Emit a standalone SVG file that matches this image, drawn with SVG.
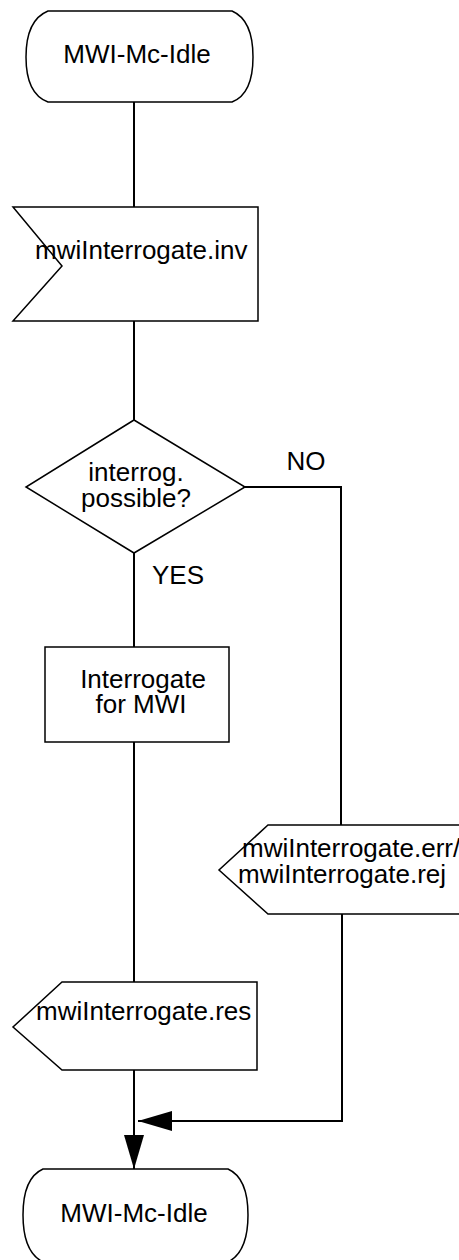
<svg xmlns="http://www.w3.org/2000/svg" width="459" height="1260" viewBox="0 0 459 1260">
<defs>
<style>
.s{fill:#fff;stroke:#000;stroke-width:1.5}
.c{fill:none;stroke:#000;stroke-width:2}
.t{font-family:"Liberation Sans",Arial,sans-serif;font-size:26px;fill:#000}
.m{text-anchor:middle}
</style>
<marker id="ah" markerWidth="34" markerHeight="20" refX="34" refY="10" orient="auto" markerUnits="userSpaceOnUse">
<path d="M0,0 L34,10 L0,20 Z" fill="#000"/>
</marker>
</defs>
<rect width="459" height="1260" fill="#fff"/>
<g id="connectors">
<path class="c" d="M134,102 V207"/>
<path class="c" d="M134,321 V420"/>
<path class="c" d="M134,553 V647"/>
<path class="c" d="M134,742 V982"/>
<path class="c" d="M245,487 H341 V825"/>
<path class="c" d="M342,914 V1121 H138" marker-end="url(#ah)"/>
<path class="c" d="M134,1070 V1169" marker-end="url(#ah)"/>
</g>
<g id="state_top">
<path class="s" d="M48,11 H232 Q253,20 253,57 Q253,94 232,102 H48 Q26,94 26,57 Q26,20 48,11 Z"/>
<text class="t m" x="137" y="63">MWI-Mc-Idle</text>
</g>
<g id="input_inv">
<path class="s" d="M13,207 H258 V321 H13 L62,266 Z"/>
<text class="t" x="35" y="259">mwiInterrogate.inv</text>
</g>
<g id="decision">
<path class="s" d="M134,420 L245,487 L134,553 L26,487 Z"/>
<text class="t m" x="136" y="481">interrog.</text>
<text class="t m" x="136" y="507">possible?</text>
</g>
<g id="label_no"><text class="t m" x="306" y="470">NO</text></g>
<g id="label_yes"><text class="t" x="152" y="584">YES</text></g>
<g id="task">
<rect class="s" x="45" y="647" width="184" height="95"/>
<text class="t m" x="143" y="688">Interrogate</text>
<text class="t m" x="141" y="713">for MWI</text>
</g>
<g id="output_err">
<path class="s" d="M268,825 H475 V914 H268 L219,870 Z"/>
<text class="t" x="242" y="857">mwiInterrogate.err/</text>
<text class="t" x="238" y="883">mwiInterrogate.rej</text>
</g>
<g id="output_res">
<path class="s" d="M62,982 H257 V1070 H62 L13,1027 Z"/>
<text class="t" x="36" y="1020">mwiInterrogate.res</text>
</g>
<g id="state_bottom">
<path class="s" d="M43,1169 H228 Q248,1178 248,1215 Q248,1252 228,1262 H43 Q23,1252 23,1215 Q23,1178 43,1169 Z"/>
<text class="t m" x="134" y="1222">MWI-Mc-Idle</text>
</g>
</svg>
